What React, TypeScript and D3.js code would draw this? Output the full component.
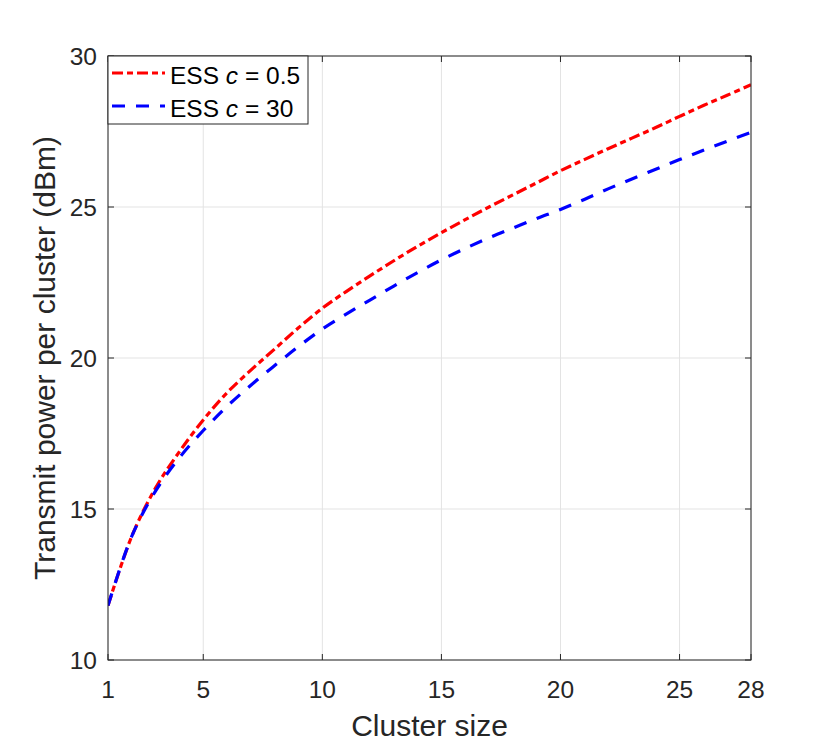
import { useRef, useEffect } from "react";
import * as d3 from "d3";

type Point = { x: number; y: number };

const clusterSizes = [
  1, 2, 3, 4, 5, 6, 7, 8, 9, 10, 11, 12, 13, 14, 15, 16, 17, 18, 19, 20, 21,
  22, 23, 24, 25, 26, 27, 28,
];
// ESS c = 0.5 (red, dash-dot)
const powerC05 = [
  11.8, 14.1, 15.7, 16.9, 17.95, 18.85, 19.6, 20.3, 21.0, 21.65, 22.2, 22.72,
  23.22, 23.7, 24.15, 24.58, 25.0, 25.4, 25.8, 26.2, 26.57, 26.93, 27.28, 27.63,
  28.0, 28.36, 28.7, 29.05,
];
// ESS c = 30 (blue, dashed)
const powerC30 = [
  11.8, 14.1, 15.6, 16.7, 17.6, 18.4, 19.1, 19.75, 20.38, 20.96, 21.45, 21.92,
  22.38, 22.83, 23.25, 23.63, 23.98, 24.3, 24.62, 24.92, 25.25, 25.6, 25.93,
  26.25, 26.57, 26.88, 27.18, 27.47,
];
const xTicks = [1, 5, 10, 15, 20, 25, 28];
const yTicks = [10, 15, 20, 25, 30];
const seriesNames = ["0.5", "30"];
const seriesColors = ["#ff0000", "#0000ff"];
const seriesDash = ["11,4,6,4", "13,11"];

const width = 830;
const height = 744;
const margin = { left: 108, right: 79, top: 56, bottom: 84 };
const font = "'Liberation Sans', Arial, Helvetica, sans-serif";
const axisColor = "#262626";

export default function App() {
  const ref = useRef<SVGSVGElement>(null);

  useEffect(() => {
    if (!ref.current) return;
    const svg = d3.select(ref.current);
    svg.selectAll("*").remove();

    const x0 = margin.left;
    const x1 = width - margin.right;
    const y0 = height - margin.bottom;
    const y1 = margin.top;

    const xScale = d3.scaleLinear().domain([1, 28]).range([x0, x1]);
    const yScale = d3.scaleLinear().domain([10, 30]).range([y0, y1]);

    // white plot background
    svg
      .append("rect")
      .attr("x", x0)
      .attr("y", y1)
      .attr("width", x1 - x0)
      .attr("height", y0 - y1)
      .attr("fill", "#fff");

    // Grid
    const grid = svg.append("g").attr("stroke", "#e3e3e3").attr("stroke-width", 1);
    xTicks.forEach((t) => {
      grid
        .append("line")
        .attr("x1", xScale(t))
        .attr("x2", xScale(t))
        .attr("y1", y0)
        .attr("y2", y1);
    });
    yTicks.forEach((t) => {
      grid
        .append("line")
        .attr("x1", x0)
        .attr("x2", x1)
        .attr("y1", yScale(t))
        .attr("y2", yScale(t));
    });

    // Lines
    svg
      .append("clipPath")
      .attr("id", "plot-clip")
      .append("rect")
      .attr("x", x0)
      .attr("y", y1)
      .attr("width", x1 - x0)
      .attr("height", y0 - y1);

    const line = d3
      .line<Point>()
      .x((d) => xScale(d.x))
      .y((d) => yScale(d.y))
      .curve(d3.curveCatmullRom.alpha(0.5));

    [powerC05, powerC30].forEach((vals, i) => {
      const pts: Point[] = clusterSizes.map((c, j) => ({ x: c, y: vals[j] }));
      svg
        .append("path")
        .datum(pts)
        .attr("clip-path", "url(#plot-clip)")
        .attr("fill", "none")
        .attr("stroke", seriesColors[i])
        .attr("stroke-width", 3.2)
        .attr("stroke-dasharray", seriesDash[i])
        .attr("d", line);
    });

    // Axes box with inward ticks on all four sides
    const axes = svg.append("g").attr("stroke", axisColor).attr("stroke-width", 1);
    axes
      .append("rect")
      .attr("x", x0)
      .attr("y", y1)
      .attr("width", x1 - x0)
      .attr("height", y0 - y1)
      .attr("fill", "none");
    const tickLen = 6;
    xTicks.forEach((t) => {
      const xp = xScale(t);
      axes.append("line").attr("x1", xp).attr("x2", xp).attr("y1", y0).attr("y2", y0 - tickLen);
      axes.append("line").attr("x1", xp).attr("x2", xp).attr("y1", y1).attr("y2", y1 + tickLen);
    });
    yTicks.forEach((t) => {
      const yp = yScale(t);
      axes.append("line").attr("x1", x0).attr("x2", x0 + tickLen).attr("y1", yp).attr("y2", yp);
      axes.append("line").attr("x1", x1).attr("x2", x1 - tickLen).attr("y1", yp).attr("y2", yp);
    });

    // Tick labels
    const labels = svg
      .append("g")
      .attr("font-family", font)
      .attr("font-size", 24.5)
      .attr("fill", axisColor);
    xTicks.forEach((t) => {
      labels
        .append("text")
        .attr("x", xScale(t))
        .attr("y", y0 + 38)
        .attr("text-anchor", "middle")
        .text(t);
    });
    yTicks.forEach((t) => {
      labels
        .append("text")
        .attr("x", x0 - 11)
        .attr("y", yScale(t) + 9)
        .attr("text-anchor", "end")
        .text(t);
    });

    // Axis labels
    svg
      .append("text")
      .attr("x", (x0 + x1) / 2)
      .attr("y", 736)
      .attr("text-anchor", "middle")
      .attr("font-family", font)
      .attr("font-size", 30)
      .attr("fill", axisColor)
      .text("Cluster size");
    svg
      .append("text")
      .attr("transform", `translate(55, ${(y0 + y1) / 2}) rotate(-90)`)
      .attr("text-anchor", "middle")
      .attr("font-family", font)
      .attr("font-size", 30)
      .attr("fill", axisColor)
      .text("Transmit power per cluster (dBm)");

    // Legend
    const lg = svg.append("g");
    lg.append("rect")
      .attr("x", x0)
      .attr("y", y1)
      .attr("width", 200)
      .attr("height", 68)
      .attr("fill", "#fff")
      .attr("stroke", axisColor)
      .attr("stroke-width", 1);
    seriesNames.forEach((name, i) => {
      const yc = 73 + i * 33;
      lg.append("line")
        .attr("x1", 112)
        .attr("x2", 165)
        .attr("y1", yc)
        .attr("y2", yc)
        .attr("stroke", seriesColors[i])
        .attr("stroke-width", 3.2)
        .attr("stroke-dasharray", seriesDash[i]);
      const txt = lg
        .append("text")
        .attr("x", 170)
        .attr("y", yc + 11)
        .attr("font-family", font)
        .attr("font-size", 24.5)
        .attr("fill", "#000");
      txt.append("tspan").text("ESS ");
      txt.append("tspan").attr("font-style", "italic").text("c");
      txt.append("tspan").text(` = ${name}`);
    });
  }, []);

  return (
    <svg
      ref={ref}
      width={width}
      height={height}
      style={{ position: "absolute", left: 0, top: 0, background: "#fff" }}
    />
  );
}
